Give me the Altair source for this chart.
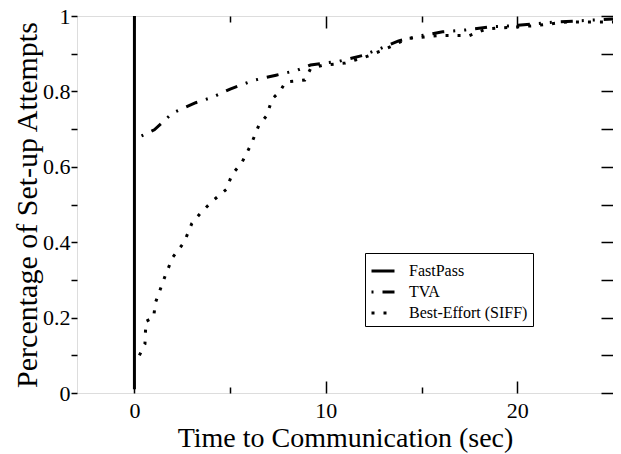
import altair as alt
import pandas as pd

FONT = "Liberation Serif"

series_names = ["FastPass", "TVA", "Best-Effort (SIFF)"]
fast_x = [0.0, 0.0]
fast_y = [0.01, 1.0]
tva_x = [0.37, 1.04, 2.0, 3.2, 4.1, 5.0, 6.2, 7.4, 8.5, 9.2, 10.7, 11.9, 12.8,
         13.8, 15.0, 16.1, 17.3, 18.5, 19.7, 22.0, 24.3, 25.0]
tva_y = [0.682, 0.698, 0.743, 0.770, 0.785, 0.806, 0.829, 0.843, 0.856, 0.870,
         0.880, 0.895, 0.913, 0.934, 0.948, 0.958, 0.963, 0.971, 0.974, 0.984,
         0.990, 0.992]
be_x = [0.26, 0.55, 0.6, 1.0, 1.1, 1.6, 2.0, 2.6, 3.0, 3.5, 4.1, 4.8, 5.1, 5.6,
        6.1, 6.5, 6.9, 7.2, 7.6, 7.9, 8.9, 9.2, 9.8, 11.0, 12.0, 13.0, 13.7,
        14.2, 15.9, 17.5, 18.4, 20.8, 22.6, 25.0]
be_y = [0.10, 0.13, 0.19, 0.20, 0.24, 0.31, 0.36, 0.40, 0.45, 0.48, 0.51, 0.54,
        0.58, 0.61, 0.66, 0.71, 0.735, 0.78, 0.80, 0.825, 0.83, 0.86, 0.869,
        0.875, 0.89, 0.91, 0.926, 0.94, 0.948, 0.948, 0.966, 0.974, 0.984, 0.984]
x_major = [0, 10, 20]
x_minor = [5, 15]
y_ticks = [round(i * 0.1, 1) for i in range(11)]

rows = []
for name, xs, ys in [(series_names[0], fast_x, fast_y),
                     (series_names[1], tva_x, tva_y),
                     (series_names[2], be_x, be_y)]:
    for i, (xv, yv) in enumerate(zip(xs, ys)):
        rows.append({"series": name, "x": xv, "y": yv, "order": i})
df = pd.DataFrame(rows)

xscale = alt.Scale(domain=[-3, 25], nice=False, zero=False)
yscale = alt.Scale(domain=[0, 1], nice=False, zero=False)
base = alt.Chart(df)

TICK_W = 1.5

lines = base.mark_line(strokeWidth=3, clip=True, strokeCap="butt").encode(
    x=alt.X("x:Q", scale=xscale, axis=alt.Axis(
        orient="bottom", values=x_major, offset=-12, tickSize=12, domain=False,
        grid=False, labelFont=FONT, labelFontSize=22, labelPadding=7,
        labelColor="black", tickColor="black", tickWidth=TICK_W,
        title="Time to Communication (sec)", titleFont=FONT, titleFontSize=28,
        titleFontWeight="normal", titlePadding=3, titleColor="black")),
    y=alt.Y("y:Q", scale=yscale, axis=alt.Axis(
        orient="left", values=y_ticks, tickSize=6, domain=False, grid=False,
        labelExpr="(round(datum.value*10) % 2 == 0) ? format(datum.value, '~g') : ''",
        labelFont=FONT, labelFontSize=22, labelPadding=1, labelColor="black",
        tickColor="black", tickWidth=TICK_W,
        title="Percentage of Set-up Attempts", titleFont=FONT, titleFontSize=30,
        titleFontWeight="normal", titlePadding=0, titleColor="black")),
    color=alt.value("black"),
    strokeDash=alt.StrokeDash("series:N", scale=alt.Scale(
        domain=series_names,
        range=[[1, 0], [2, 9, 12, 9, 2, 9], [3, 9]]),
        legend=alt.Legend(title=None, orient="none", legendX=288, legendY=237,
                          strokeColor="black", fillColor="white", padding=5,
                          labelFont=FONT, labelFontSize=16, labelColor="black",
                          symbolSize=529, symbolStrokeWidth=3,
                          symbolStrokeColor="black", symbolType="stroke",
                          rowPadding=-1, labelOffset=13)),
    detail="series:N",
    order="order:Q",
)

def tick_layer(xaxis, yaxis):
    return base.mark_line(strokeOpacity=0).encode(
        x=alt.X("x:Q", scale=xscale, axis=xaxis),
        y=alt.Y("y:Q", scale=yscale, axis=yaxis),
        detail="series:N",
    )

common = dict(domain=False, grid=False, labels=False, title=None,
              tickColor="black", tickWidth=TICK_W)
layer_b = tick_layer(
    alt.Axis(orient="bottom", values=x_minor, offset=-6, tickSize=6, **common),
    alt.Axis(orient="right", values=y_ticks, offset=-12, tickSize=12, **common),
)
layer_c = tick_layer(
    alt.Axis(orient="top", values=x_major, offset=-12, tickSize=12, **common), None)
layer_d = tick_layer(
    alt.Axis(orient="top", values=x_minor, offset=-6, tickSize=6, **common), None)

chart = alt.layer(lines, layer_b, layer_c, layer_d).resolve_axis(
    x="independent", y="independent"
).properties(
    width=536, height=377,
    autosize=alt.AutoSizeParams(type="none"),
    padding={"left": 69, "top": 8, "right": 0, "bottom": 61},
).configure_view(stroke="black", strokeWidth=1.5).configure(background="white")

chart.save("out.html", embed_options={"renderer": "svg", "actions": False})
